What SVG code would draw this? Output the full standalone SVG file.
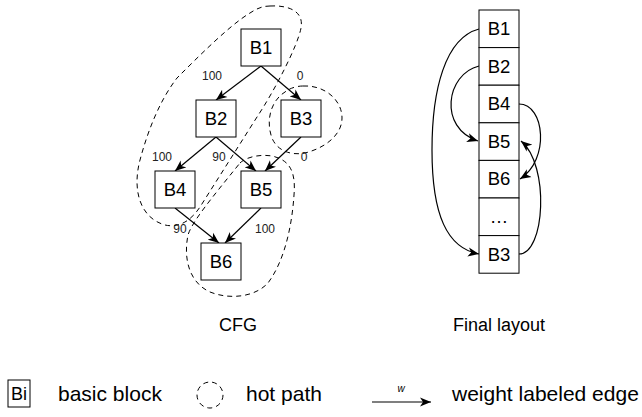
<svg xmlns="http://www.w3.org/2000/svg" width="642" height="417" viewBox="0 0 642 417">
<defs>
<marker id="arr" markerUnits="userSpaceOnUse" markerWidth="12" markerHeight="10" viewBox="0 0 12 10" refX="11" refY="5" orient="auto">
<path d="M0,0.5 L11,5 L0,9.5 L3,5 Z" fill="#000"/>
</marker>
<style>
.box{fill:#fff;stroke:#000;stroke-width:1}
.t{font-family:"Liberation Sans",Arial,sans-serif;font-size:18.5px;fill:#000;text-anchor:middle}
.lab{font-family:"Liberation Sans",Arial,sans-serif;font-size:12px;fill:#222;text-anchor:middle}
.cap{font-family:"Liberation Sans",Arial,sans-serif;font-size:18px;fill:#000;text-anchor:middle}
.leg{font-family:"Liberation Sans",Arial,sans-serif;font-size:21px;fill:#000}
.e{fill:none;stroke:#000;stroke-width:1.2;marker-end:url(#arr)}
.hot{fill:none;stroke:#000;stroke-width:1;stroke-dasharray:5 4}
</style>
</defs>
<rect width="642" height="417" fill="#fff"/>

<g id="hotpaths">
<path class="hot" d="M270,6 C290,5 304,12 301,28 C298,45 275,90 257,117 L200,207 C190,222 178,228 165,225 C140,218 132,190 140,160 C148,130 160,100 177,78 C200,55 230,25 250,13 C256,9 262,6 270,6 Z"/>
<path class="hot" d="M240,163 C246,157 260,154 272,156 C290,160 296,172 294,195 C292,225 285,260 268,283 C255,297 230,300 210,292 C190,283 183,260 188,235 C192,222 210,200 240,163 Z"/>
<path class="hot" d="M303,86 C325,85 342,100 342,118 C342,135 325,148 305,153 C290,156 275,150 271,135 C266,118 272,100 285,92 C290,88 297,86 303,86 Z"/>
</g>

<g id="cfg-edges">
<line class="e" x1="261" y1="66" x2="216" y2="100"/>
<line class="e" x1="261" y1="66" x2="301" y2="100"/>
<line class="e" x1="216" y1="137" x2="175" y2="171"/>
<line class="e" x1="216" y1="137" x2="256" y2="171"/>
<line class="e" x1="301" y1="137" x2="265" y2="171"/>
<line class="e" x1="175" y1="208" x2="219" y2="243"/>
<line class="e" x1="261" y1="208" x2="225" y2="243"/>
<text class="lab" x="212" y="80">100</text>
<text class="lab" x="300" y="80">0</text>
<text class="lab" x="162" y="161">100</text>
<text class="lab" x="219" y="161">90</text>
<text class="lab" x="304" y="161">0</text>
<text class="lab" x="180" y="233">90</text>
<text class="lab" x="265" y="233">100</text>
</g>

<g id="B1"><rect class="box" x="241" y="29" width="40" height="37"/><text class="t" x="261" y="54">B1</text></g>
<g id="B2"><rect class="box" x="196" y="100" width="40" height="37"/><text class="t" x="216" y="125">B2</text></g>
<g id="B3"><rect class="box" x="281" y="100" width="40" height="37"/><text class="t" x="301" y="125">B3</text></g>
<g id="B4"><rect class="box" x="155" y="171" width="40" height="37"/><text class="t" x="175" y="196">B4</text></g>
<g id="B5"><rect class="box" x="241" y="171" width="40" height="37"/><text class="t" x="261" y="196">B5</text></g>
<g id="B6"><rect class="box" x="201" y="243" width="40" height="37"/><text class="t" x="221" y="268">B6</text></g>

<text class="cap" x="238" y="331">CFG</text>

<g id="layout">
<g id="L-B1"><rect class="box" x="479" y="10" width="40" height="37.6"/><text class="t" x="499" y="35">B1</text></g>
<g id="L-B2"><rect class="box" x="479" y="47.6" width="40" height="37.6"/><text class="t" x="499" y="72.6">B2</text></g>
<g id="L-B4"><rect class="box" x="479" y="85.2" width="40" height="37.6"/><text class="t" x="499" y="110.2">B4</text></g>
<g id="L-B5"><rect class="box" x="479" y="122.8" width="40" height="37.6"/><text class="t" x="499" y="147.8">B5</text></g>
<g id="L-B6"><rect class="box" x="479" y="160.4" width="40" height="37.6"/><text class="t" x="499" y="185.4">B6</text></g>
<g id="L-dots"><rect class="box" x="479" y="198" width="40" height="37.6"/><text class="t" x="499" y="223">…</text></g>
<g id="L-B3"><rect class="box" x="479" y="235.6" width="40" height="37.6"/><text class="t" x="499" y="260.6">B3</text></g>
</g>

<g id="layout-edges">
<path class="e" d="M479,29 C445,38 432,90 432,150 C432,215 447,248 479,254"/>
<path class="e" d="M479,66 C446,74 438,128 478,141"/>
<path class="e" d="M519,104 C545,104 550,160 520,179"/>
<path class="e" d="M519,254 C545,254 550,165 521,141"/>
</g>

<text class="cap" x="499" y="331">Final layout</text>

<g id="legend">
<rect class="box" x="8" y="380" width="22" height="27"/>
<text class="leg" x="19" y="400" text-anchor="middle" style="font-size:18px">Bi</text>
<text class="leg" x="58" y="401">basic block</text>
<circle class="hot" cx="210" cy="395" r="13"/>
<text class="leg" x="246" y="401">hot path</text>
<line class="e" x1="372" y1="402" x2="431" y2="402"/>
<text x="401" y="392" style="font-family:'Liberation Sans',Arial,sans-serif;font-size:10px;font-style:italic" text-anchor="middle">w</text>
<text class="leg" x="452" y="401">weight labeled edge</text>
</g>
</svg>
